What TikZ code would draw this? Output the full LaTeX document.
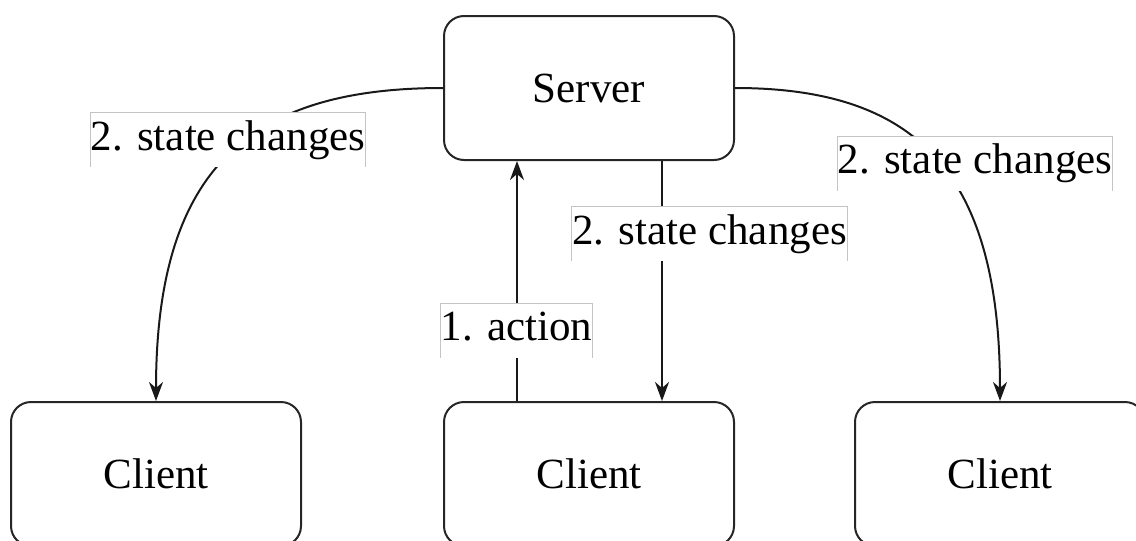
\documentclass[tikz,border=0pt]{standalone}
\usepackage{fontspec}
\setmainfont{Liberation Serif}
\usetikzlibrary{arrows.meta}
\definecolor{lblgray}{HTML}{C4C4C4}
\tikzset{
  x=0.5pt, y=-0.5pt,
  box/.style={draw=black!85, line width=1pt, rounded corners=10pt, fill=white,
    minimum width=145pt, minimum height=72pt, inner sep=0pt,
    font=\fontsize{21.5pt}{25pt}\selectfont},
  conn/.style={draw=black!90, line width=1pt, -{Stealth[length=9.5pt,width=7pt,inset=3pt]}},
  lbl/.style={fill=white, inner xsep=0pt, inner ysep=0pt, minimum height=27pt,
    text height=15pt, text depth=5pt,
    font=\fontsize{21.5pt}{25pt}\selectfont},
  lblborder/.style={draw=lblgray, line width=0.6pt}
}
\begin{document}
\begin{tikzpicture}
\useasboundingbox (0,0) rectangle (1136,541);
\clip (0,0) rectangle (1136,541);
\node[box] (srv) at (589,88) {Server};
\node[box] (c1) at (156,474) {Client};
\node[box] (c2) at (589,474) {Client};
\node[box] (c3) at (1000,474) {Client};
% connectors
\draw[conn] (srv.west) .. controls +(-194,0) and +(0,-232) .. (c1.north);
\draw[conn] (srv.east) .. controls +(178,0) and +(0,-232) .. (c3.north);
\draw[conn] ([xshift=-36pt]c2.north) -- ([xshift=-36pt]srv.south);
\draw[conn] ([xshift=36.5pt]srv.south) -- ([xshift=36.5pt]c2.north);
% labels
\node[lbl] (l1) at (228,140) {2. state changes};
\node[lbl] (l2) at (709.5,234) {2. state changes};
\node[lbl] (l3) at (975,163.5) {2. state changes};
\node[lbl] (l4) at (516.5,330.5) {1. action};
\foreach \n in {l1,l2,l3,l4}
  \draw[lblborder] (\n.south west) -- (\n.north west) -- (\n.north east) -- (\n.south east);
\end{tikzpicture}
\end{document}
